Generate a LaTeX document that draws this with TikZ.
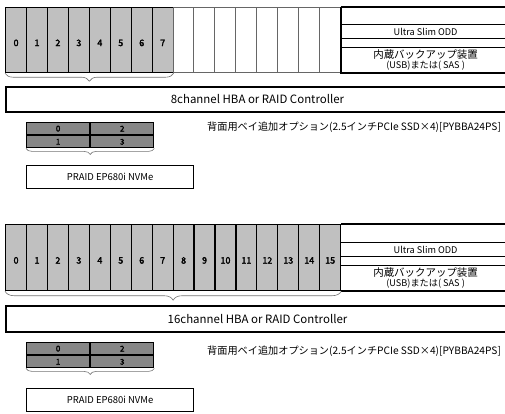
\documentclass[tikz,border=0pt]{standalone}
\usepackage{fontspec}
\setmainfont{Noto Sans CJK JP}
\newfontfamily\numfont{Noto Sans CJK JP}[FakeBold=2.5]
\usetikzlibrary{positioning,decorations.pathreplacing}
\definecolor{baygray}{HTML}{C0C0C0}
\definecolor{optgray}{HTML}{878787}
\tikzset{
  bay/.style={rectangle,draw,line width=1.2bp,fill=baygray,anchor=north west,
    minimum width=20.94bp,minimum height=65bp,inner sep=0pt,
    text height=12bp,text depth=0pt,
    font=\numfont\fontsize{9}{10}\selectfont},
  emptybay/.style={bay,fill=white,draw=black!60,line width=0.9bp},
  slotbox/.style={rectangle,draw,line width=1.2bp,anchor=north west,
    minimum width=170bp,inner sep=0pt,align=center,
    font=\fontsize{9.2}{10}\selectfont},
  ctrl/.style={rectangle,draw,line width=2bp,anchor=north west,
    minimum width=503bp,minimum height=25bp,inner sep=0pt,
    font=\fontsize{11.5}{12}\selectfont},
  optbay/.style={rectangle,draw,line width=1.2bp,fill=optgray,
    minimum width=63bp,minimum height=12bp,inner sep=0pt,
    font=\numfont\fontsize{8}{9}\selectfont},
  card/.style={rectangle,draw,line width=1.2bp,anchor=north west,
    minimum width=167bp,minimum height=23bp,inner sep=0pt,
    font=\fontsize{9.5}{10}\selectfont},
  note/.style={anchor=west,inner sep=0pt,font=\fontsize{10.2}{11}\selectfont},
  rule/.style={line width=1.2bp},
  brace/.style={draw=black!55,line width=0.6bp,decorate,yshift=-2bp,
    decoration={brace,amplitude=#1}},
  brace/.default=8bp
}
\newcommand{\bkptext}{{\fontsize{10.5}{11}\selectfont 内蔵バックアップ装置}\\(USB)または( SAS )}
\begin{document}
\begin{tikzpicture}[x=1bp,y=-1bp]
\useasboundingbox (0,0) rectangle (505,413);

% 8 bays
\foreach \i in {0,...,7}
  \node[bay] (a\i) at ({5+20.94*\i},7) {\i};
\foreach \i in {8,...,15}
  \node[emptybay] (a\i) at ({5+20.94*\i},7) {};
\draw[rule] (a15.north east) -- ++(170,0);
\draw[rule] (a15.north east) -- (a15.south east) -- ++(170,0);
\node[slotbox,minimum height=14bp] (aodd) at (340,24) {Ultra Slim ODD};
\node[slotbox,minimum height=25bp] (abkp) at (340,47) {\bkptext};
\draw[brace] (a7.south east) -- (a0.south west);
\node[ctrl] (actrl) at (5,86) {8channel HBA or RAID Controller};
\node[optbay,anchor=north west] (ao0) at (26,122) {0};
\node[optbay,right=0pt of ao0] (ao2) {2};
\node[optbay,below=0pt of ao0] (ao1) {1};
\node[optbay,right=0pt of ao1] (ao3) {3};
\draw[brace=6bp] (ao3.south east) -- (ao1.south west);
\node[card] (acard) at (26,165) {PRAID EP680i NVMe};
\node[note] (anote) at (207,127) {背面用ベイ追加オプション(2.5インチPCIe SSD×4)[PYBBA24PS]};

% 16 bays
\foreach \i in {0,...,15}
  \node[bay,minimum height=66bp] (b\i) at ({5+20.94*\i},224) {\i};
\draw[rule] (b15.north east) -- ++(170,0);
\draw[rule] (b15.south east) -- ++(170,0);
\node[slotbox,minimum height=14bp] (bodd) at (340,242) {Ultra Slim ODD};
\node[slotbox,minimum height=25bp] (bbkp) at (340,265) {\bkptext};
\draw[brace=9bp] (b15.south east) -- (b0.south west);
\node[ctrl,minimum height=26bp] (bctrl) at (5,305) {16channel HBA or RAID Controller};
\node[optbay,anchor=north west] (bo0) at (26,342) {0};
\node[optbay,right=0pt of bo0] (bo2) {2};
\node[optbay,below=0pt of bo0] (bo1) {1};
\node[optbay,right=0pt of bo1] (bo3) {3};
\draw[brace=6bp] (bo3.south east) -- (bo1.south west);
\node[card] (bcard) at (26,388) {PRAID EP680i NVMe};
\node[note] (bnote) at (207,351) {背面用ベイ追加オプション(2.5インチPCIe SSD×4)[PYBBA24PS]};
\end{tikzpicture}
\end{document}
